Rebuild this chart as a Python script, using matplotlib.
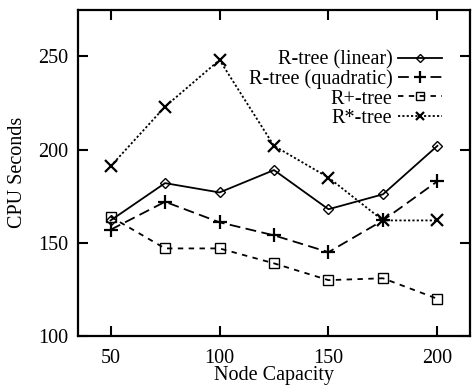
import matplotlib
matplotlib.use("Agg")
import matplotlib.pyplot as plt

plt.rcParams['font.family'] = ['Liberation Serif', 'DejaVu Serif']

capacity = [50, 75, 100, 125, 150, 175, 200]
rtree_linear = [162, 182, 177, 189, 168, 176, 202]
rtree_quadratic = [157, 172, 161, 154, 145, 162, 183]
rplus_tree = [164, 147, 147, 139, 130, 131, 120]
rstar_tree = [191, 223, 248, 202, 185, 162, 162]

series = [
    ("R-tree (linear)", rtree_linear, dict(ls='-', marker='D', ms=5.5)),
    ("R-tree (quadratic)", rtree_quadratic, dict(ls=(0, (6, 3)), marker='+', ms=10, mew=1.6)),
    ("R+-tree", rplus_tree, dict(ls=(0, (3, 3)), marker='s', ms=7.5)),
    ("R*-tree", rstar_tree, dict(ls=(0, (1.2, 1.2)), marker='x', ms=8, mew=1.6)),
]

fig = plt.figure(figsize=(4.72, 3.85), dpi=100)
ax = fig.add_axes([0.165, 0.127, 0.831, 0.848])

for name, vals, st in series:
    ax.plot(capacity, vals, color='black', lw=1.3, mfc='none', mec='black',
            label=name, **st)

ax.set_xlim(35, 215)
ax.set_ylim(100, 275)
ax.set_xticks([50, 100, 150, 200])
ax.set_yticks([100, 150, 200, 250])
ax.tick_params(direction='in', length=7, width=1.5, labelsize=14.5,
               top=True, right=True)
ax.tick_params(axis='x', pad=9)
ax.tick_params(axis='y', pad=7)
for sp in ax.spines.values():
    sp.set_linewidth(1.6)

ax.set_xlabel("Node Capacity", fontsize=14.5, labelpad=-1)
ax.set_ylabel("CPU Seconds", fontsize=14.5, labelpad=8)

ax.legend(loc='upper right', bbox_to_anchor=(0.928, 0.875), frameon=False,
          markerfirst=False, fontsize=14.5, labelspacing=0.0, markerscale=0.8,
          handlelength=2.2, handletextpad=0.25, borderpad=0, borderaxespad=0)

fig.savefig("out.png", dpi=100)
